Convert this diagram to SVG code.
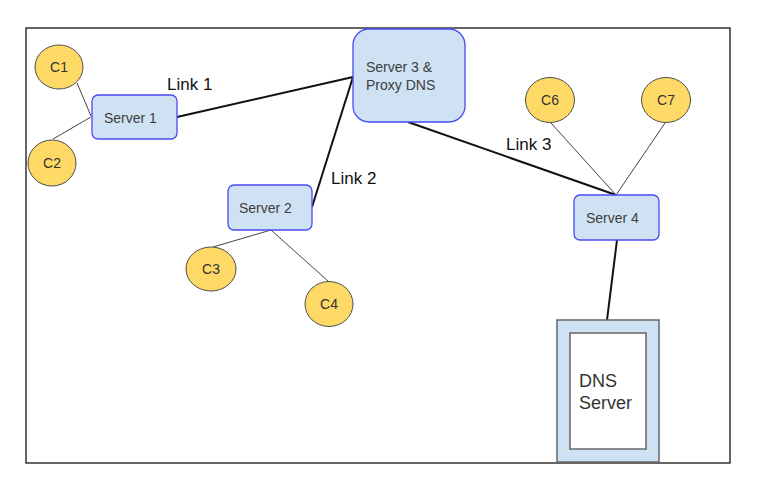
<svg xmlns="http://www.w3.org/2000/svg" width="761" height="488" viewBox="0 0 761 488">
<style>
.client{fill:#ffd966;stroke:#4d4d4d;stroke-width:1}
.srv{fill:#cfe2f3;stroke:#4a4af5;stroke-width:1.3}
.lbl{font-family:"Liberation Sans",Arial,sans-serif;font-size:14px;fill:#3d3d3d}
.clbl{font-family:"Liberation Sans",Arial,sans-serif;font-size:14px;fill:#333;text-anchor:middle}
.link{font-family:"Liberation Sans",Arial,sans-serif;font-size:17px;fill:#111}
.thin{stroke:#444;stroke-width:1;fill:none}
.thick{stroke:#111;stroke-width:2;fill:none}
</style>
<rect x="0" y="0" width="761" height="488" fill="#ffffff"/>
<rect id="frame" x="26" y="28" width="704" height="435" fill="#ffffff" stroke="#000" stroke-width="1.2"/>
<g id="connectors">
<line class="thin" x1="77" y1="83" x2="91" y2="116"/>
<line class="thin" x1="53" y1="139" x2="91" y2="117"/>
<line class="thick" x1="177" y1="117" x2="353" y2="77"/>
<line class="thick" x1="353" y1="77" x2="312" y2="207"/>
<line class="thick" x1="408" y1="122" x2="616" y2="195"/>
<line class="thin" x1="271" y1="230" x2="213" y2="247"/>
<line class="thin" x1="271" y1="230" x2="328" y2="281"/>
<line class="thin" x1="551" y1="123" x2="616" y2="195"/>
<line class="thin" x1="665" y1="123" x2="616" y2="195"/>
<line class="thick" x1="617" y1="240" x2="607" y2="320"/>
<text class="link" x="167" y="90">Link 1</text>
<text class="link" x="331" y="184">Link 2</text>
<text class="link" x="506" y="150">Link 3</text>
</g>
<g id="c1"><ellipse class="client" cx="59" cy="67" rx="24" ry="22"/><text class="clbl" x="59" y="72">C1</text></g>
<g id="c2"><ellipse class="client" cx="52" cy="163" rx="24" ry="23"/><text class="clbl" x="52" y="168">C2</text></g>
<g id="c3"><ellipse class="client" cx="211" cy="269" rx="25" ry="22"/><text class="clbl" x="211" y="274">C3</text></g>
<g id="c4"><ellipse class="client" cx="329" cy="304" rx="24" ry="22.5"/><text class="clbl" x="329" y="309">C4</text></g>
<g id="c6"><ellipse class="client" cx="550" cy="100" rx="24.5" ry="22.5"/><text class="clbl" x="550" y="105">C6</text></g>
<g id="c7"><ellipse class="client" cx="666" cy="100" rx="24.5" ry="22.5"/><text class="clbl" x="666" y="105">C7</text></g>
<g id="server1"><rect class="srv" x="92" y="95" width="85" height="44" rx="6"/><text class="lbl" x="104" y="123">Server 1</text></g>
<g id="server2"><rect class="srv" x="228" y="185" width="84" height="45" rx="6"/><text class="lbl" x="239" y="213">Server 2</text></g>
<g id="server3"><rect class="srv" x="353" y="29" width="112" height="93" rx="16"/><text class="lbl" x="366" y="72">Server 3 &amp;</text><text class="lbl" x="366" y="90">Proxy DNS</text></g>
<g id="server4"><rect class="srv" x="574" y="195" width="85" height="45" rx="6"/><text class="lbl" x="586" y="223">Server 4</text></g>
<g id="dns"><rect x="557" y="320" width="102" height="142" fill="#cfe2f3" stroke="#666" stroke-width="1.5"/><rect x="570" y="333" width="76" height="116" fill="#ffffff" stroke="#666" stroke-width="1.5"/><text font-family="Liberation Sans, Arial, sans-serif" font-size="18" fill="#333" x="579" y="387">DNS</text><text font-family="Liberation Sans, Arial, sans-serif" font-size="18" fill="#333" x="579" y="409">Server</text></g>
</svg>
